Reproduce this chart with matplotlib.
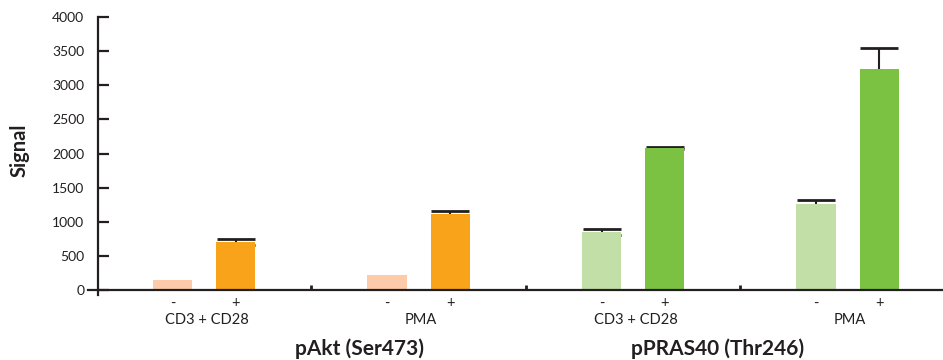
import numpy as np
import matplotlib
matplotlib.use('Agg')
import matplotlib.pyplot as plt

plt.rcParams['font.family'] = ['Lato', 'DejaVu Sans']

# values
proteins = ['pAkt (Ser473)', 'pPRAS40 (Thr246)']
treatments = ['CD3 + CD28', 'PMA', 'CD3 + CD28', 'PMA']
minus_vals = [147, 220, 850, 1260]
plus_vals = [703, 1113, 2080, 3238]
minus_err = [0, 0, 44, 59]
plus_err = [44, 44, 10, 308]
yticks = [0, 500, 1000, 1500, 2000, 2500, 3000, 3500, 4000]

light_cols = ['#FDCBA9', '#FDCBA9', '#C2DFA8', '#C2DFA8']
dark_cols = ['#F9A31B', '#F9A31B', '#7BC142', '#7BC142']
axcol = '#231F20'

off = 0.147
bw = 0.182
x = np.arange(len(treatments))

fig = plt.figure(figsize=(9.43, 3.6), dpi=100)
ax = fig.add_axes([88/943, 65/360, 1 - 88/943, 278/360])

ax.bar(x - off, minus_vals, bw, color=light_cols, zorder=3)
ax.bar(x + off, plus_vals, bw, color=dark_cols, zorder=3)


def add_err(xs, vals, errs):
    xs = np.asarray(xs)
    vals = np.asarray(vals, dtype=float)
    errs = np.asarray(errs, dtype=float)
    m = errs > 0
    # symmetric bars drawn behind the columns, so only the upper half shows
    ax.errorbar(xs[m], vals[m], yerr=errs[m], fmt='none', ecolor=axcol,
                elinewidth=1.5, capsize=14, capthick=2, zorder=2)


add_err(x - off, minus_vals, minus_err)
add_err(x + off, plus_vals, plus_err)

ax.set_xlim(-0.541, 3.445)
ax.set_ylim(-73, 4000)
for s in ['top', 'right']:
    ax.spines[s].set_visible(False)
ax.spines['left'].set_position(('data', -0.494))
ax.spines['bottom'].set_position(('data', 0))
for s in ['left', 'bottom']:
    ax.spines[s].set_color(axcol)
    ax.spines[s].set_linewidth(1.6)
    ax.spines[s].set_zorder(4)

ax.set_yticks(yticks)
ax.set_yticklabels([str(v) for v in yticks])
ax.tick_params(axis='y', direction='in', length=8, width=1.6, color=axcol,
               labelsize=10, labelcolor='#231F20', pad=10)
ax.set_xticks([])

# group separators on the x axis
ax.vlines(x[:-1] + 0.5, 0, 75, color=axcol, linewidth=2, zorder=4)

tr = ax.get_xaxis_transform()
for i, t in enumerate(treatments):
    ax.text(x[i] - off, -0.005, '-', transform=tr, ha='center', va='top', fontsize=10.5, color='#231F20')
    ax.text(x[i] + off, -0.005, '+', transform=tr, ha='center', va='top', fontsize=10.5, color='#231F20')
    ax.text(x[i] + 0.012, -0.064, t, transform=tr, ha='center', va='top', fontsize=10.5, color='#231F20')

label_x = [0.723, 2.392]
for px, p in zip(label_x, proteins):
    ax.text(px, -0.155, p, transform=tr, ha='center', va='top', fontsize=15,
            fontweight='bold', color='#231F20')

fig.text(20/943, 1 - 150/360, 'Signal', rotation=90, ha='center', va='center',
         fontsize=14.5, fontweight='bold', color='#231F20')

fig.savefig('out.png', dpi=100)
